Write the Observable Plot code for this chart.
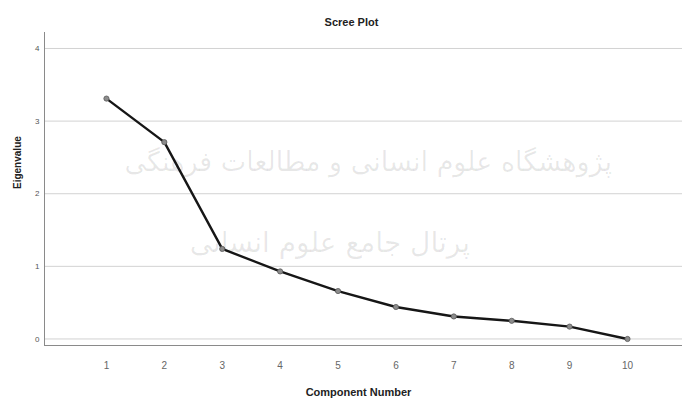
<!DOCTYPE html>
<html>
<head>
<meta charset="utf-8">
<script src="https://cdn.jsdelivr.net/npm/d3@7"></script>
<script src="https://cdn.jsdelivr.net/npm/@observablehq/plot@0.6"></script>
<style>
  html, body { margin: 0; padding: 0; background: #fff; }
  #wrap { position: relative; width: 682px; height: 401px; overflow: hidden; }
  .wm { position: absolute; font-family: "DejaVu Sans", sans-serif; color: rgba(0,0,0,0.09); white-space: nowrap; pointer-events: none; direction: rtl; text-align: right; }
</style>
</head>
<body>
<div id="wrap">
  <div id="chart"></div>
  <div class="wm" id="wm1" style="right:70px; top:146px; font-size:27px;">پژوهشگاه علوم انسانی و مطالعات فرهنگی</div>
  <div class="wm" id="wm2" style="right:212px; top:226px; font-size:28px;">پرتال جامع علوم انسانی</div>
</div>
<script>
const components = [1, 2, 3, 4, 5, 6, 7, 8, 9, 10];
const eigenvalues = [3.31, 2.71, 1.24, 0.93, 0.66, 0.44, 0.31, 0.25, 0.17, 0.0];
const yTicks = [0, 1, 2, 3, 4];
const xTicks = [1, 2, 3, 4, 5, 6, 7, 8, 9, 10];
const title = "Scree Plot";
const xLabel = "Component Number";
const yLabel = "Eigenvalue";

const data = components.map((c, i) => ({c, v: eigenvalues[i]}));
const xDom = [-0.07, 10.95];
const yDom = [-0.09, 4.22];

const chart = Plot.plot({
  width: 682,
  height: 401,
  marginLeft: 44,
  marginRight: 0,
  marginTop: 32,
  marginBottom: 56,
  style: {fontFamily: "'Liberation Sans', Arial, sans-serif", background: "transparent"},
  x: {domain: xDom, axis: null},
  y: {domain: yDom, axis: null},
  marks: [
    Plot.ruleY(yTicks, {stroke: "#d2d2d2", strokeWidth: 1}),
    Plot.ruleX([xDom[0]], {stroke: "#8a8a8a", strokeWidth: 1}),
    Plot.ruleY([yDom[0]], {stroke: "#8a8a8a", strokeWidth: 1}),
    Plot.line(data, {x: "c", y: "v", stroke: "#161616", strokeWidth: 2.4}),
    Plot.dot(data, {x: "c", y: "v", r: 2.6, fill: "#8c8c8c", stroke: "#5a5a5a", strokeWidth: 0.8}),
    Plot.text(yTicks, {y: d => d, frameAnchor: "left", dx: -5, textAnchor: "end", fontSize: 8, fill: "#555"}),
    Plot.text(xTicks, {x: d => d, frameAnchor: "bottom", dy: 23, fontSize: 10, fill: "#666"}),
    Plot.text([yLabel], {frameAnchor: "left", dx: -27, rotate: -90, fontSize: 10, fontWeight: "bold", fill: "#222"}),
    Plot.text([xLabel], {frameAnchor: "bottom", dy: 50, dx: -5, fontSize: 11, fontWeight: "bold", fill: "#222"}),
    Plot.text([title], {frameAnchor: "top", dy: -14, dx: -12, fontSize: 11, fontWeight: "bold", fill: "#222"})
  ]
});
document.getElementById("chart").appendChild(chart);
</script>
</body>
</html>
